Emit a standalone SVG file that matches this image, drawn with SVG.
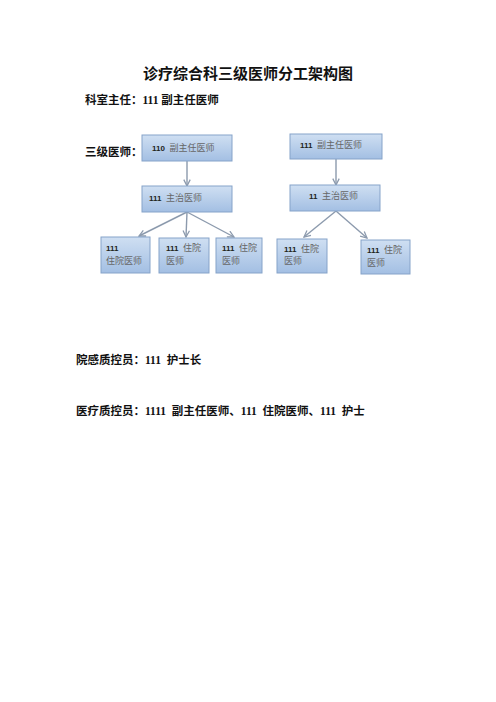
<svg xmlns="http://www.w3.org/2000/svg" width="496" height="702" viewBox="0 0 496 702">
<defs>
<linearGradient id="g" x1="0" y1="0" x2="0" y2="1">
<stop offset="0" stop-color="#cfdff2"/>
<stop offset="1" stop-color="#a3bfe3"/>
</linearGradient>
<marker id="ah" viewBox="0 0 10 10" refX="9" refY="5" markerWidth="8" markerHeight="8" orient="auto-start-reverse" markerUnits="userSpaceOnUse">
<path d="M1,1 L9,5 L1,9" fill="none" stroke="#8c9aad" stroke-width="1.6"/>
</marker>
</defs>
<style>
.box{fill:url(#g);stroke:#86a3c9;stroke-width:1}
.head{font-family:"Liberation Serif","Noto Sans CJK SC",serif;font-weight:bold;fill:#111}
.bt{font-family:"Liberation Serif","Noto Sans CJK SC",serif;font-size:9px;fill:#666}
.num{font-family:"Liberation Sans","Noto Sans CJK SC",sans-serif;font-weight:bold;font-size:8px;fill:#222}
.conn{stroke:#8c9aad;stroke-width:1.4;fill:none;marker-end:url(#ah)}
</style>
<rect width="496" height="702" fill="#ffffff"/>
<g id="title"><text x="248" y="79" text-anchor="middle" class="head" style="font-family:'Noto Sans CJK SC',sans-serif" font-size="15">诊疗综合科三级医师分工架构图</text></g>
<g id="dept-head"><text x="85" y="104" class="head" font-size="11.5">科室主任：111 副主任医师</text></g>
<g id="label-3"><text x="85" y="156" class="head" font-size="11.5">三级医师：</text></g>
<g id="connectors">
<line x1="187" y1="161" x2="187" y2="186" class="conn"/>
<line x1="187" y1="212" x2="139" y2="236" class="conn"/>
<line x1="187" y1="212" x2="186" y2="237" class="conn"/>
<line x1="187" y1="212" x2="234" y2="237" class="conn"/>
<line x1="336" y1="159" x2="336" y2="185" class="conn"/>
<line x1="336" y1="211" x2="304" y2="237" class="conn"/>
<line x1="336" y1="211" x2="367" y2="238" class="conn"/>
</g>
<g id="n1"><rect x="142" y="135" width="90" height="26" class="box"/><text x="152" y="151" class="bt"><tspan class="num">110</tspan>&#160;&#160;副主任医师</text></g>
<g id="n2"><rect x="142" y="186" width="90" height="26" class="box"/><text x="149" y="201" class="bt"><tspan class="num">111</tspan>&#160;&#160;主治医师</text></g>
<g id="n3"><rect x="101" y="237" width="49" height="36" class="box"/><text x="106" y="251" class="bt"><tspan class="num">111</tspan></text><text x="106" y="264" class="bt">住院医师</text></g>
<g id="n4"><rect x="159" y="238" width="50" height="35" class="box"/><text x="166" y="251" class="bt"><tspan class="num">111</tspan>&#160;&#160;住院</text><text x="166" y="264" class="bt">医师</text></g>
<g id="n5"><rect x="216" y="238" width="46" height="35" class="box"/><text x="222" y="251" class="bt"><tspan class="num">111</tspan>&#160;&#160;住院</text><text x="222" y="264" class="bt">医师</text></g>
<g id="n6"><rect x="290" y="134" width="92" height="25" class="box"/><text x="300" y="148" class="bt"><tspan class="num">111</tspan>&#160;&#160;副主任医师</text></g>
<g id="n7"><rect x="290" y="185" width="90" height="26" class="box"/><text x="309" y="199" class="bt"><tspan class="num">11</tspan>&#160;&#160;主治医师</text></g>
<g id="n8"><rect x="277" y="239" width="50" height="34" class="box"/><text x="284" y="252" class="bt"><tspan class="num">111</tspan>&#160;&#160;住院</text><text x="284" y="264" class="bt">医师</text></g>
<g id="n9"><rect x="361" y="240" width="49" height="34" class="box"/><text x="367" y="253" class="bt"><tspan class="num">111</tspan>&#160;&#160;住院</text><text x="367" y="266" class="bt">医师</text></g>
<g id="infection"><text x="76" y="364" class="head" font-size="11.5">院感质控员：111&#160;&#160;护士长</text></g>
<g id="quality"><text x="76" y="415" class="head" font-size="11.5">医疗质控员：1111&#160;&#160;副主任医师、111&#160;&#160;住院医师、111&#160;&#160;护士</text></g>
</svg>
